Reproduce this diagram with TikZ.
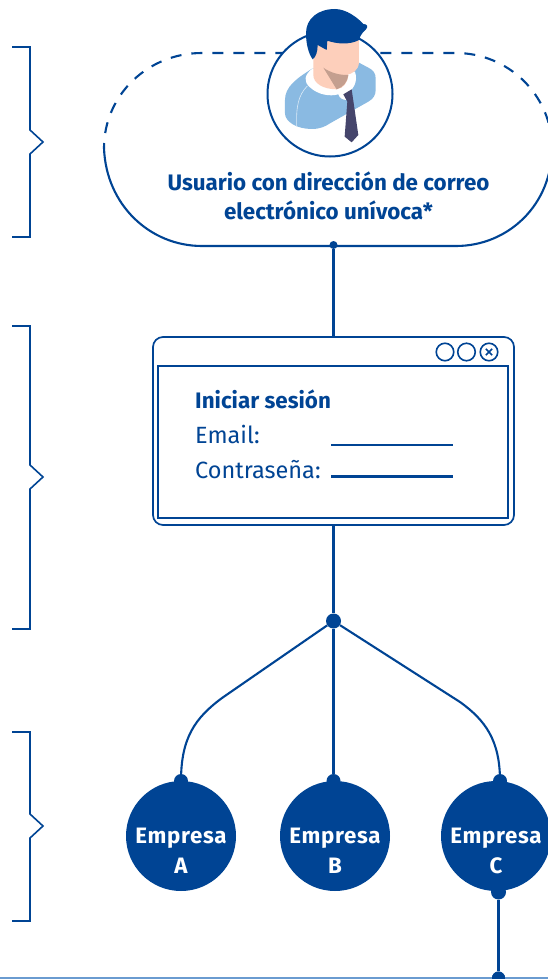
\documentclass[tikz,border=0pt]{standalone}
\usepackage{fontspec}
\setmainfont{Fira Sans}
\newfontfamily\spaced[LetterSpace=3]{Fira Sans}
\definecolor{navy}{HTML}{004494}
\definecolor{sky}{HTML}{8ABAE2}
\definecolor{skin}{HTML}{FDCFBB}
\definecolor{neckshadow}{HTML}{C49F8F}
\definecolor{tie}{HTML}{45456B}
\definecolor{rulecol}{HTML}{6A9BD0}
\tikzset{
  x=1pt,y=-1pt,
  ln/.style={draw=navy,line width=2.1pt},
  brace/.style={draw=navy,line width=1.6pt},
  dotnode/.style={circle,fill=navy,inner sep=0pt,minimum size=#1},
  company/.style={circle,fill=navy,inner sep=0pt,minimum size=110pt},
  companytext/.style={text=white,align=center,inner sep=0pt,font=\spaced\bfseries\fontsize{22.3}{29.5}\selectfont},
  title/.style={text=navy,align=center,font=\bfseries\fontsize{22.4}{29}\selectfont},
  label/.style={text=navy,anchor=base west,inner sep=0pt,font=\fontsize{23.5}{24}\selectfont},
}
\begin{document}
\begin{tikzpicture}
\useasboundingbox (0,0) rectangle (548,979);
\clip (0,0) rectangle (548,979);
% braces
\draw[brace] (12,47) -- (30,47) -- (30,130) -- (43,142) -- (30,154) -- (30,237) -- (12,237);
\draw[brace] (12,326) -- (30,326) -- (30,465) -- (43,477) -- (30,489) -- (30,629) -- (12,629);
\draw[brace] (12,732) -- (30,732) -- (30,814) -- (43,826) -- (30,838) -- (30,921) -- (12,921);
% cloud
\draw[ln] (104,148) .. controls (106,205) and (150,246) .. (202,246) -- (456,246) .. controls (508,246) and (552,205) .. (552,148);
\draw[ln,dash pattern=on 11pt off 10pt,dash phase=6pt] (104,148) .. controls (104,95) and (148,53) .. (202,53) -- (456,53) .. controls (508,53) and (552,95) .. (552,148);
\node[title] (usertext) at (328.5,196) {Usuario con dirección de correo\\electrónico unívoca*};
\node[dotnode=8pt] (clouddot) at (333.5,245) {};
% person
\node[circle,draw=navy,line width=2pt,fill=white,minimum size=125pt,inner sep=0pt] (avatar) at (330,94) {};
\begin{scope}[shift={(230,0)},x=0.3333pt,y=-0.3333pt]
\fill[sky] (248,205) .. controls (200,235) and (165,260) .. (165,300) -- (165,340) .. controls (165,365) and (200,387) .. (245,387) .. controls (270,387) and (285,380) .. (300,370) -- (415,305) .. controls (430,297) and (437,285) .. (437,270) -- (437,235) .. controls (437,220) and (430,210) .. (415,203) -- (385,187) -- cycle;
\draw[white!70!sky,line width=0.6pt] (200,380) .. controls (198,320) and (205,285) .. (232,258);
\fill[white] (248,205) .. controls (222,225) and (220,245) .. (240,262) .. controls (265,285) and (300,290) .. (325,283) .. controls (328,295) and (340,300) .. (350,300) -- (345,283) .. controls (370,272) and (385,245) .. (375,215) -- cycle;
\fill[skin] (250,115) -- (387,115) -- (387,188) .. controls (385,210) and (370,222) .. (345,225) -- (355,225) .. controls (352,250) and (340,265) .. (320,268) .. controls (280,268) and (250,250) .. (250,225) -- cycle;
\fill[neckshadow] (280,203) .. controls (300,218) and (330,226) .. (355,225) .. controls (353,245) and (340,262) .. (320,268) -- cycle;
\fill[tie] (340,283) -- (365,268) -- (385,405) -- (365,427) -- (344,410) -- (352,305) -- cycle;
\fill[navy] (248,178) .. controls (235,160) and (228,130) .. (228,100) .. controls (228,55) and (265,27) .. (315,27) .. controls (350,27) and (385,55) .. (400,72) .. controls (412,72) and (415,80) .. (408,88) .. controls (400,97) and (393,100) .. (387,120) .. controls (360,135) and (320,132) .. (292,122) -- (290,150) -- (263,135) .. controls (263,155) and (258,170) .. (248,178) -- cycle;
\end{scope}
% window
\node[draw=navy,line width=1.7pt,rounded corners=10pt,fill=white,minimum width=361pt,minimum height=188pt,inner sep=0pt] (win) at (333.5,431) {};
\node[draw=navy,line width=1.7pt,minimum width=350pt,minimum height=152pt,inner sep=0pt] (pane) at (333,442) {};
\node[circle,draw=navy,line width=1.6pt,minimum size=17.5pt,inner sep=0pt] (btna) at (445,352) {};
\node[circle,draw=navy,line width=1.6pt,minimum size=17.5pt,inner sep=0pt] (btnb) at (466.5,352) {};
\node[circle,draw=navy,line width=1.6pt,minimum size=17.5pt,inner sep=0pt] (btnc) at (489,352) {};
\draw[navy,line width=1.5pt] (btnc.center)+(-3.2,-3.2) -- +(3.2,3.2) (btnc.center)+(-3.2,3.2) -- +(3.2,-3.2);
\node[label,font=\bfseries\fontsize{22.4}{24}\selectfont] (login) at (195,408) {Iniciar sesión};
\node[label] (email) at (195,443) {Email:};
\node[label] (pass) at (195,478) {Contraseña:};
\coordinate (ea) at (331,445); \coordinate (eb) at (453,445);
\coordinate (pa) at (331,476.5); \coordinate (pb) at (453,476.5);
\draw[ln] (ea) -- (eb);
\draw[ln] (pa) -- (pb);
% companies
\node[company] (ca) at (181,836) {};
\node[company] (cb) at (335,836) {};
\node[company] (cc) at (496,836) {};
\node[companytext] (cat) at (181,851) {Empresa\\A};
\node[companytext] (cbt) at (335,851) {Empresa\\B};
\node[companytext] (cct) at (496,851) {Empresa\\C};
\node[dotnode=15pt] (hub) at (333.5,621) {};
\node[dotnode=14pt] (na) at (181,781) {};
\node[dotnode=14pt] (nb) at (333.5,781) {};
\node[dotnode=14pt] (nc) at (500,781) {};
\node[dotnode=15pt] (nd) at (498.5,892) {};
\node[dotnode=13pt] (ne) at (498.5,978) {};
\draw[ln] (clouddot) -- (win.north -| clouddot);
\draw[ln] (win.south -| hub) -- (hub);
\draw[ln] (hub) -- (nb);
\draw[ln] (hub) -- (222,698) .. controls (195,718) and (181,738) .. (na.center);
\draw[ln] (hub) -- (460,702) .. controls (485,720) and (500,740) .. (nc.center);
\draw[ln] (nd) -- (ne);
\coordinate (rl) at (0,978); \coordinate (rr) at (548,978);
\draw[rulecol,line width=1.2pt] (rl) -- (rr);
\fill[navy] (ne.center) circle (6.5pt);
\end{tikzpicture}
\end{document}
